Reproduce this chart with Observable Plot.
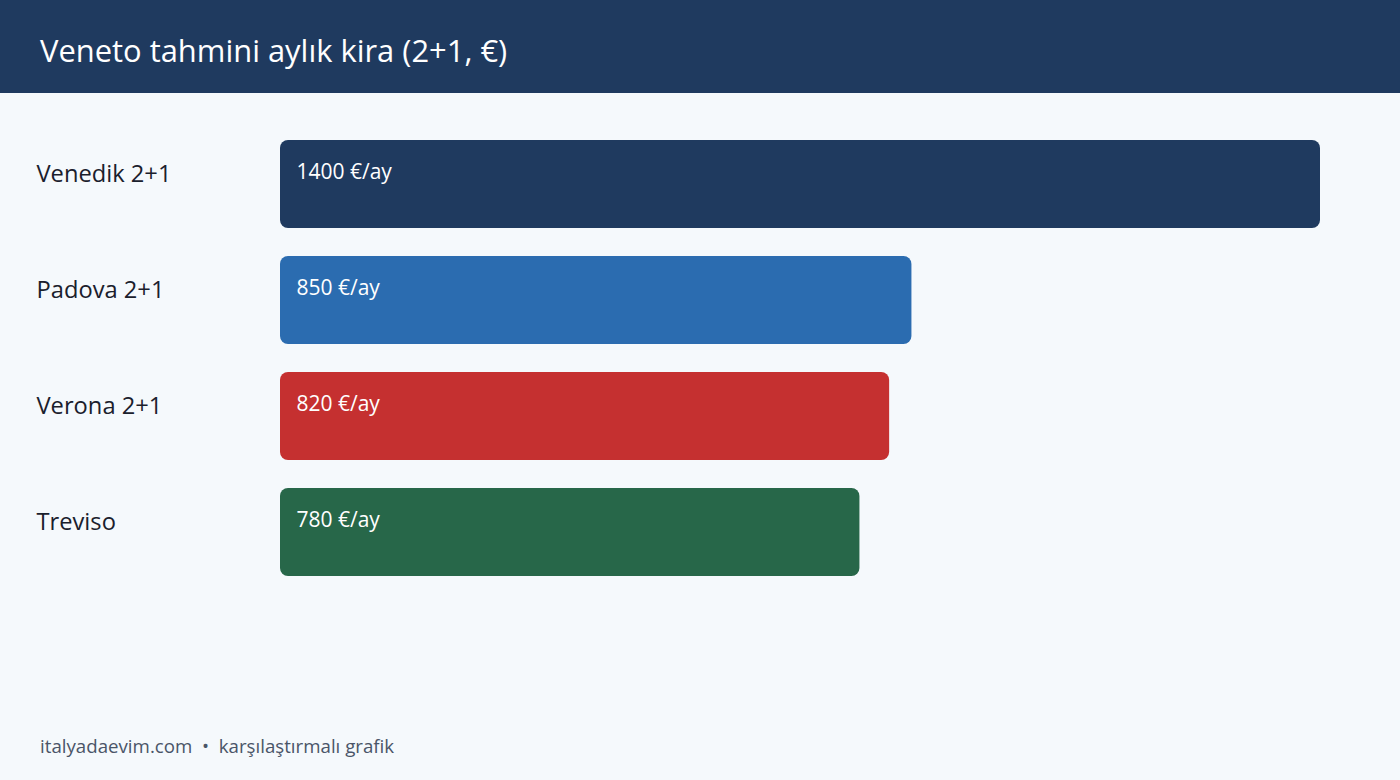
<!DOCTYPE html>
<html>
<head>
<meta charset="utf-8">
<script src="https://cdn.jsdelivr.net/npm/d3@7"></script>
<script src="https://cdn.jsdelivr.net/npm/@observablehq/plot@0.6"></script>
<style>
  html, body { margin: 0; padding: 0; width: 1400px; height: 780px; overflow: hidden; background: #f5f9fc; font-family: "Open Sans", sans-serif; }
  #header { position: absolute; left: 0; top: 0; width: 1400px; height: 93px; background: #1f3a5f; }
  #title { position: absolute; left: 40px; top: 30px; font-size: 30.9px; line-height: 40px; color: #ffffff; white-space: nowrap; }
  #chart { position: absolute; left: 0; top: 93px; }
  #footer { position: absolute; left: 40px; top: 736px; font-size: 18.7px; line-height: 20px; color: #4a5568; white-space: pre; }
</style>
</head>
<body>
<div id="header"><div id="title">Veneto tahmini aylık kira (2+1, €)</div></div>
<div id="chart"></div>
<div id="footer">italyadaevim.com  •  karşılaştırmalı grafik</div>
<script>
const categories = ["Venedik 2+1", "Padova 2+1", "Verona 2+1", "Treviso"];
const rents = [1400, 850, 820, 780];
const valueLabels = ["1400 €/ay", "850 €/ay", "820 €/ay", "780 €/ay"];
const barColors = ["#1f3a5f", "#2b6cb0", "#c53030", "#276749"];

const data = categories.map((c, i) => ({category: c, rent: rents[i], label: valueLabels[i], color: barColors[i]}));

const chart = Plot.plot({
  width: 1400,
  height: 620,
  marginLeft: 280,
  marginRight: 80,
  marginTop: 47,
  marginBottom: 137,
  style: {background: "transparent", fontFamily: "'Open Sans', sans-serif"},
  x: {domain: [0, 1400], axis: null},
  y: {domain: categories, axis: null, paddingInner: 28 / 116, paddingOuter: 0},
  marks: [
    Plot.barX(data, {y: "category", x: "rent", fill: "color", rx: 8, ry: 8}),
    Plot.text(data, {y: "category", x: 0, text: "category", textAnchor: "start", lineAnchor: "bottom", dx: -244, dy: -3, fontSize: 23.7, fill: "#1a202c"}),
    Plot.text(data, {y: "category", x: 0, text: "label", textAnchor: "start", lineAnchor: "bottom", dx: 16, dy: -6, fontSize: 21, fill: "#ffffff"})
  ]
});
document.getElementById("chart").appendChild(chart);
</script>
</body>
</html>
